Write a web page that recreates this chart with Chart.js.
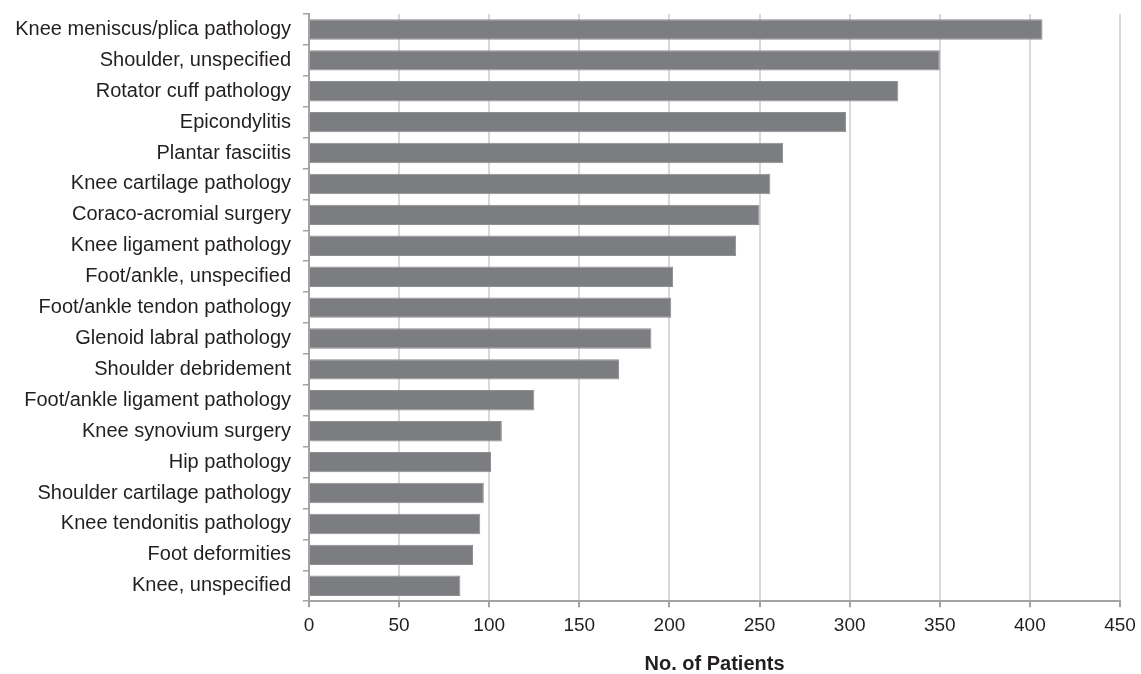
<!DOCTYPE html>
<html>
<head>
<meta charset="utf-8">
<script src="https://cdn.jsdelivr.net/npm/chart.js@4/dist/chart.umd.min.js"></script>
<style>
  html, body { margin: 0; padding: 0; background: #ffffff; }
  #wrap { position: relative; width: 1141px; height: 674px; }
</style>
</head>
<body>
<div id="wrap"><canvas id="chartProc"></canvas></div>
<script>
  // 데이터
  const categories = [
    'Knee meniscus/plica pathology',
    'Shoulder, unspecified',
    'Rotator cuff pathology',
    'Epicondylitis',
    'Plantar fasciitis',
    'Knee cartilage pathology',
    'Coraco-acromial surgery',
    'Knee ligament pathology',
    'Foot/ankle, unspecified',
    'Foot/ankle tendon pathology',
    'Glenoid labral pathology',
    'Shoulder debridement',
    'Foot/ankle ligament pathology',
    'Knee synovium surgery',
    'Hip pathology',
    'Shoulder cartilage pathology',
    'Knee tendonitis pathology',
    'Foot deformities',
    'Knee, unspecified'
  ];
  const patients = [407, 350, 327, 298, 263, 256, 250, 237, 202, 201, 190, 172, 125, 107, 101, 97, 95, 91, 84];
  const xTicks = [0, 50, 100, 150, 200, 250, 300, 350, 400, 450];
  const xTitle = 'No. of Patients';

  const FONT = 'Liberation Sans, Arial, Helvetica, sans-serif';
  const AXIS_GRAY = '#a3a3a3';
  const GRID_GRAY = '#d9d9d9';
  const TEXT = '#231f20';

  new Chart(document.getElementById('chartProc'), {
    type: 'bar',
    data: {
      labels: categories,
      datasets: [{
        label: xTitle,
        data: patients,
        backgroundColor: '#7c7d81',
        borderColor: '#8e8f93',
        borderWidth: 1,
        borderSkipped: 'start',
        categoryPercentage: 1,
        barPercentage: 0.66
      }]
    },
    options: {
      indexAxis: 'y',
      responsive: true,
      maintainAspectRatio: false,
      animation: false,
      layout: { padding: { top: 14, left: 9, right: 21, bottom: 0 } },
      plugins: {
        legend: { display: false },
        tooltip: { enabled: false }
      },
      scales: {
        x: {
          min: 0,
          max: 450,
          afterBuildTicks: function (scale) {
            scale.ticks = xTicks.map(function (v) { return { value: v }; });
          },
          afterFit: function (scale) { scale.paddingRight = 0; },
          grid: {
            color: GRID_GRAY,
            lineWidth: 2,
            tickColor: AXIS_GRAY,
            tickLength: 6,
            drawTicks: true
          },
          border: { display: true, color: AXIS_GRAY, width: 2 },
          ticks: {
            color: TEXT,
            font: { family: FONT, size: 19 },
            padding: 7,
            maxRotation: 0
          },
          title: {
            display: true,
            text: xTitle,
            color: TEXT,
            font: { family: FONT, size: 20, weight: 'bold', lineHeight: 1 },
            padding: { top: 10, bottom: 0 }
          }
        },
        y: {
          afterFit: function (scale) {
            scale.width = 300;
            scale.paddingTop = 0;
            scale.paddingBottom = 0;
          },
          grid: {
            offset: true,
            drawOnChartArea: false,
            drawTicks: true,
            tickLength: 6,
            tickColor: AXIS_GRAY,
            lineWidth: 1.5
          },
          border: { display: true, color: AXIS_GRAY, width: 2 },
          ticks: {
            color: TEXT,
            font: { family: FONT, size: 20 },
            padding: 12,
            autoSkip: false
          }
        }
      }
    }
  });
</script>
</body>
</html>
